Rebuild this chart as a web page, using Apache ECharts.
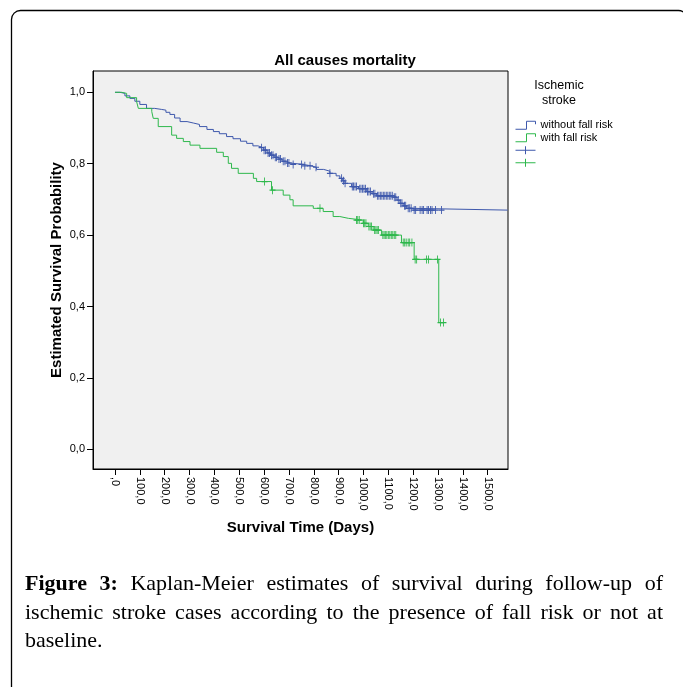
<!DOCTYPE html>
<html>
<head>
<meta charset="utf-8">
<title>All causes mortality</title>
<script src="https://cdn.jsdelivr.net/npm/echarts@6/dist/echarts.min.js"></script>
<style>
  html, body { margin: 0; padding: 0; background: #fff; }
  #chart { position: absolute; left: 0; top: 0; width: 683px; height: 687px; }
  #caption {
    position: absolute; left: 25px; top: 569px; width: 638px;
    font-family: 'Liberation Serif', serif; font-size: 22px; line-height: 28.5px;
    text-align: justify; color: #000;
  }
</style>
</head>
<body>
<div id="chart"></div>
<div id="caption"><b>Figure 3:</b> Kaplan-Meier estimates of survival during follow-up of ischemic stroke cases according to the presence of fall risk or not at baseline.</div>
<script>
// groups
var groupNames = ['without fall risk', 'with fall risk'];
var groupColors = ['#3e58ac', '#2eb84c'];

// axis ticks
var xTicks = [0, 100, 200, 300, 400, 500, 600, 700, 800, 900, 1000, 1100, 1200, 1300, 1400, 1500];
var yTicks = [0, 0.2, 0.4, 0.6, 0.8, 1.0];

// Kaplan-Meier steps [day, survival]
var noRiskSteps = [
  [0, 1.0], [20, 0.997], [40, 0.99], [60, 0.983], [80, 0.975], [100, 0.966], [127, 0.955],
  [160, 0.952], [188, 0.95], [205, 0.944], [221, 0.938], [240, 0.928], [262, 0.918],
  [290, 0.914], [315, 0.91], [340, 0.904], [370, 0.896], [396, 0.89], [420, 0.884],
  [449, 0.876], [475, 0.87], [505, 0.863], [530, 0.857], [555, 0.85], [575, 0.845],
  [597, 0.838], [612, 0.83], [626, 0.824], [640, 0.818], [655, 0.813], [672, 0.807],
  [690, 0.802], [704, 0.798], [758, 0.794], [790, 0.79], [811, 0.784], [840, 0.779],
  [865, 0.773], [890, 0.766], [905, 0.759], [915, 0.752], [926, 0.745], [952, 0.736],
  [980, 0.73], [1013, 0.722], [1035, 0.716], [1053, 0.71], [1120, 0.706], [1135, 0.698],
  [1147, 0.689], [1160, 0.682], [1174, 0.675], [1200, 0.67], [1580, 0.67]
];
var fallRiskSteps = [
  [0, 1.0], [27, 0.997], [47, 0.985], [87, 0.974], [94, 0.955], [148, 0.946], [154, 0.927],
  [174, 0.904], [228, 0.88], [248, 0.871], [275, 0.862], [302, 0.852], [342, 0.843],
  [409, 0.832], [436, 0.82], [456, 0.801], [469, 0.787], [496, 0.773], [557, 0.759],
  [570, 0.75], [630, 0.726], [677, 0.712], [704, 0.699], [717, 0.682], [798, 0.675],
  [838, 0.666], [878, 0.652], [905, 0.647], [939, 0.642], [999, 0.633], [1019, 0.624],
  [1039, 0.614], [1073, 0.6], [1153, 0.579], [1204, 0.532], [1303, 0.355], [1325, 0.355]
];

// censored cases [day, survival]
var noRiskCensored = [
  [590, 0.845], [600, 0.838], [606, 0.838], [616, 0.83], [622, 0.83], [630, 0.824], [636, 0.824],
  [645, 0.818], [650, 0.818], [660, 0.813], [666, 0.813], [677, 0.807], [684, 0.807],
  [694, 0.802], [700, 0.802], [717, 0.798], [751, 0.798], [764, 0.794], [785, 0.794],
  [809, 0.79], [865, 0.773], [912, 0.759], [920, 0.752], [926, 0.745], [955, 0.736],
  [960, 0.736], [966, 0.736], [972, 0.736], [985, 0.73], [990, 0.73], [996, 0.73],
  [1002, 0.73], [1008, 0.73], [1016, 0.722], [1022, 0.722], [1028, 0.722], [1040, 0.716],
  [1046, 0.716], [1056, 0.71], [1062, 0.71], [1068, 0.71], [1074, 0.71], [1080, 0.71],
  [1086, 0.71], [1092, 0.71], [1098, 0.71], [1104, 0.71], [1110, 0.71], [1116, 0.71],
  [1124, 0.706], [1130, 0.706], [1140, 0.698], [1150, 0.689], [1155, 0.689], [1165, 0.682],
  [1170, 0.682], [1180, 0.675], [1186, 0.675], [1192, 0.675], [1204, 0.67], [1210, 0.67],
  [1228, 0.67], [1236, 0.67], [1242, 0.67], [1256, 0.67], [1262, 0.67], [1270, 0.67],
  [1276, 0.67], [1290, 0.67], [1314, 0.67]
];
var fallRiskCensored = [
  [602, 0.75], [634, 0.726], [825, 0.675], [972, 0.642], [977, 0.642], [983, 0.642],
  [1000, 0.633], [1005, 0.633], [1010, 0.633], [1022, 0.624], [1027, 0.624], [1032, 0.624],
  [1045, 0.614], [1050, 0.614], [1055, 0.614], [1060, 0.614], [1078, 0.6], [1083, 0.6],
  [1088, 0.6], [1094, 0.6], [1100, 0.6], [1106, 0.6], [1112, 0.6], [1118, 0.6], [1124, 0.6],
  [1130, 0.6], [1160, 0.579], [1166, 0.579], [1172, 0.579], [1180, 0.579], [1186, 0.579],
  [1195, 0.579], [1208, 0.532], [1214, 0.532], [1254, 0.532], [1262, 0.532], [1298, 0.532],
  [1310, 0.355], [1322, 0.355]
];

var sans = '"Liberation Sans", Arial, sans-serif';
var stepIcon = 'path://M0,8 L11,8 L11,0 L20,0 L20,3';
var plusIcon = 'path://M0,4 L20,4 M10,0 L10,8';
var plusMark = 'path://M0,4 L6,4 M3,0 L3,8';

var myChart = echarts.init(document.getElementById('chart'));

function lineSeries(i, steps) {
  return {
    name: groupNames[i], type: 'line', step: 'end', data: steps,
    symbol: 'none', showSymbol: false, silent: true,
    lineStyle: { color: groupColors[i], width: 1 },
    itemStyle: { color: groupColors[i] }
  };
}
function censorSeries(i, pts) {
  return {
    name: groupNames[i] + ' censored', type: 'scatter', data: pts, silent: true,
    symbol: plusMark, symbolSize: [6, 8],
    itemStyle: { color: groupColors[i], borderColor: groupColors[i], borderWidth: 1, opacity: 1 }
  };
}

var option = {
  animation: false,
  backgroundColor: '#fff',
  textStyle: { fontFamily: sans },
  grid: {
    left: 93, top: 71, width: 415, height: 398,
    show: true, backgroundColor: '#f0f0f0', borderColor: '#000', borderWidth: 1
  },
  xAxis: {
    type: 'value', min: -88.5, max: 1581.7,
    name: 'Survival Time (Days)', nameLocation: 'middle', nameGap: 51,
    nameTextStyle: { color: '#000', fontWeight: 'bold', fontSize: 15, fontFamily: sans },
    axisLine: { show: true, onZero: false, lineStyle: { color: '#000', width: 1 } },
    axisTick: { show: true, customValues: xTicks, length: 6, lineStyle: { color: '#000' } },
    axisLabel: {
      customValues: xTicks, rotate: -90, margin: 8, color: '#000', fontSize: 11, fontFamily: sans,
      formatter: function (v) { return v === 0 ? ',0' : v + ',0'; }
    },
    splitLine: { show: false }
  },
  yAxis: {
    type: 'value', min: -0.0552, max: 1.0597,
    name: 'Estimated Survival Probability', nameLocation: 'middle', nameGap: 29, nameRotate: 90,
    nameMoveOverlap: false,
    nameTextStyle: { color: '#000', fontWeight: 'bold', fontSize: 15, fontFamily: sans },
    axisLine: { show: true, onZero: false, lineStyle: { color: '#000', width: 1 } },
    axisTick: { show: true, customValues: yTicks, length: 6, lineStyle: { color: '#000' } },
    axisLabel: {
      customValues: yTicks, margin: 8, color: '#000', fontSize: 11, fontFamily: sans,
      formatter: function (v) { return v.toFixed(1).replace('.', ','); }
    },
    splitLine: { show: false }
  },
  legend: {
    orient: 'vertical', left: 510, top: 114, itemWidth: 20, itemHeight: 8, itemGap: 0,
    selectedMode: false,
    textStyle: { color: '#000', fontSize: 11, fontFamily: sans, lineHeight: 12.5 },
    formatter: function (name) { return name.indexOf('censored') > -1 ? ' ' : name; },
    data: [
      { name: groupNames[0], icon: stepIcon, itemStyle: { color: 'transparent', borderColor: groupColors[0], borderWidth: 1 } },
      { name: groupNames[1], icon: stepIcon, itemStyle: { color: 'transparent', borderColor: groupColors[1], borderWidth: 1 } },
      { name: groupNames[0] + ' censored', icon: plusIcon, itemStyle: { color: 'transparent', borderColor: groupColors[0], borderWidth: 1 } },
      { name: groupNames[1] + ' censored', icon: plusIcon, itemStyle: { color: 'transparent', borderColor: groupColors[1], borderWidth: 1 } }
    ]
  },
  graphic: [
    { type: 'rect', silent: true, z: -1,
      shape: { x: 11.5, y: 10.5, width: 676, height: 700, r: 9 },
      style: { fill: 'none', stroke: '#000', lineWidth: 1.3 } },
    { type: 'text', silent: true, x: 345, y: 61,
      style: { text: 'All causes mortality', fill: '#000', font: 'bold 15px ' + sans, align: 'center', verticalAlign: 'middle' } },
    { type: 'text', silent: true, x: 559, y: 93.5,
      style: { text: 'Ischemic\nstroke', fill: '#000', font: '12.5px ' + sans, lineHeight: 15, align: 'center', verticalAlign: 'middle' } }
  ],
  series: [
    lineSeries(0, noRiskSteps),
    lineSeries(1, fallRiskSteps),
    censorSeries(0, noRiskCensored),
    censorSeries(1, fallRiskCensored)
  ]
};

myChart.setOption(option);
window.onresize = function () { myChart.resize(); };
</script>
</body>
</html>
